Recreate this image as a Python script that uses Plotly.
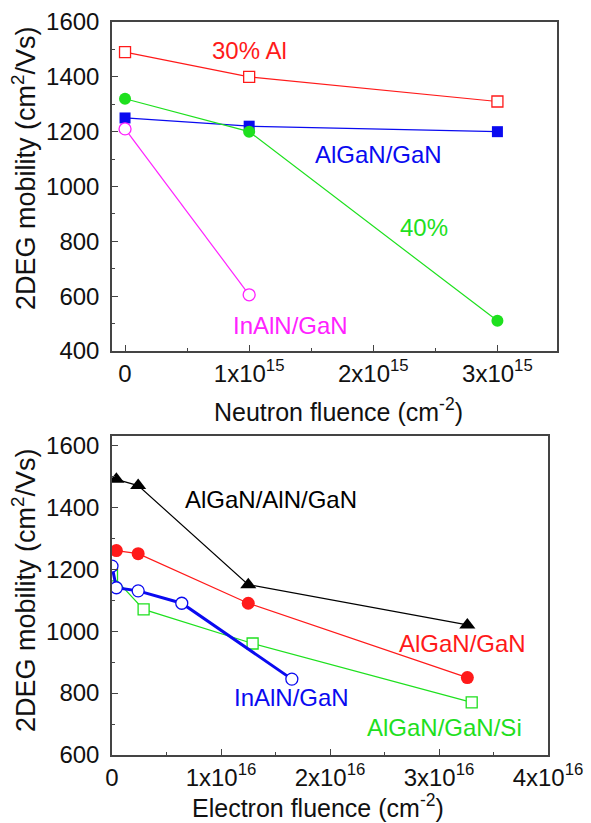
import plotly.graph_objects as go

# ---- neutron irradiation (upper panel) ----
neutron_x = [0, 1e15, 3e15]
al30_mob = [1490, 1400, 1310]
algan_mob = [1250, 1220, 1200]
al40_mob = [1320, 1200, 510]
inaln_n_x = [0, 1e15]
inaln_n_mob = [1210, 605]

neutron_ticks = [0, 1e15, 2e15, 3e15]
neutron_ticktext = ["0", "1x10<sup>15</sup>", "2x10<sup>15</sup>", "3x10<sup>15</sup>"]

# ---- electron irradiation (lower panel) ----
aln_x = [0.04e16, 0.24e16, 1.25e16, 3.26e16]
aln_mob = [1490, 1470, 1150, 1020]
algan_e_x = [0.04e16, 0.24e16, 1.25e16, 3.26e16]
algan_e_mob = [1260, 1250, 1090, 850]
inaln_e_x = [0, 0.04e16, 0.24e16, 0.64e16, 1.65e16]
inaln_e_mob = [1210, 1140, 1130, 1090, 845]
si_x = [0, 0.29e16, 1.29e16, 3.3e16]
si_mob = [1180, 1070, 960, 770]

electron_ticks = [0, 1e16, 2e16, 3e16, 4e16]
electron_ticktext = ["0", "1x10<sup>16</sup>", "2x10<sup>16</sup>",
                     "3x10<sup>16</sup>", "4x10<sup>16</sup>"]

RED = "#FF1A1A"
BLUE = "#0A0AF0"
GREEN = "#1EE01E"
MAGENTA = "#FF22FF"
BLACK = "#000000"
FONT = "Liberation Sans, Arial, sans-serif"

fig = go.Figure()


def series(x, y, color, symbol, size, xa, ya, open_marker=False, lw=1.2):
    fig.add_trace(go.Scatter(
        x=x, y=y, mode="lines+markers", xaxis=xa, yaxis=ya,
        line=dict(color=color, width=lw),
        marker=dict(symbol=symbol, size=size,
                    color="white" if open_marker else color,
                    line=dict(color=color, width=1.3 if open_marker else 0)),
        showlegend=False,
    ))


# upper panel
series(neutron_x, al30_mob, RED, "square", 11, "x", "y", open_marker=True)
series(neutron_x, algan_mob, BLUE, "square", 11, "x", "y")
series(neutron_x, al40_mob, GREEN, "circle", 12, "x", "y")
series(inaln_n_x, inaln_n_mob, MAGENTA, "circle", 12, "x", "y", open_marker=True)

# lower panel
series(si_x, si_mob, GREEN, "square", 11, "x2", "y2", open_marker=True)
series(inaln_e_x, inaln_e_mob, BLUE, "circle", 12, "x2", "y2", open_marker=True, lw=3)
series(algan_e_x, algan_e_mob, RED, "circle", 13, "x2", "y2")
series(aln_x, aln_mob, BLACK, "triangle-up", 14, "x2", "y2")

W, H = 591, 823
axis_common = dict(
    showline=True, linecolor="#444444", linewidth=1.5, mirror=True,
    ticks="inside", ticklen=6, tickwidth=1.2, tickcolor="#444444",
    showgrid=False, zeroline=False, automargin=False,
    tickfont=dict(family=FONT, size=24, color="#111111"),
)

fig.update_layout(
    width=W, height=H,
    margin=dict(l=0, r=0, t=0, b=0),
    paper_bgcolor="white", plot_bgcolor="white",
    font=dict(family=FONT, color="#111111"),
    xaxis=dict(domain=[112 / W, 557 / W], range=[-0.105e15, 3.48e15],
               tickmode="array", tickvals=neutron_ticks, ticktext=neutron_ticktext,
               minor=dict(tickvals=[0.5e15, 1.5e15, 2.5e15], ticks="inside",
                          ticklen=3, tickcolor="#444444"),
               anchor="y", ticklabelstandoff=0, **axis_common),
    yaxis=dict(domain=[1 - 351 / H, 1 - 22 / H], range=[400, 1600],
               tickmode="linear", tick0=400, dtick=200,
               minor=dict(dtick=100, ticks="inside", ticklen=3, tickcolor="#444444"),
               anchor="x", ticklabelstandoff=6, **axis_common),
    xaxis2=dict(domain=[112 / W, 548 / W], range=[0, 4e16],
                tickmode="array", tickvals=electron_ticks, ticktext=electron_ticktext,
                minor=dict(tickvals=[0.5e16, 1.5e16, 2.5e16, 3.5e16], ticks="inside",
                           ticklen=3, tickcolor="#444444"),
                anchor="y2", ticklabelstandoff=0, **axis_common),
    yaxis2=dict(domain=[1 - 755 / H, 1 - 436 / H], range=[600, 1630],
                tickmode="linear", tick0=600, dtick=200,
                minor=dict(dtick=100, ticks="inside", ticklen=3, tickcolor="#444444"),
                anchor="x2", ticklabelstandoff=6, **axis_common),
)

# series labels placed in data coordinates
labels = [
    ("x", "y", 1.0e15, 1495, "30% Al", RED),
    ("x", "y", 2.04e15, 1118, "AlGaN/GaN", BLUE),
    ("x", "y", 2.41e15, 852, "40%", GREEN),
    ("x", "y", 1.33e15, 494, "InAlN/GaN", MAGENTA),
    ("x2", "y2", 1.46e16, 1426, "AlGaN/AlN/GaN", BLACK),
    ("x2", "y2", 3.22e16, 961, "AlGaN/GaN", RED),
    ("x2", "y2", 1.65e16, 787, "InAlN/GaN", BLUE),
    ("x2", "y2", 3.05e16, 690, "AlGaN/GaN/Si", GREEN),
]
for xa, ya, x, y, text, color in labels:
    fig.add_annotation(xref=xa, yref=ya, x=x, y=y, text=text, showarrow=False,
                       xanchor="center", yanchor="middle",
                       font=dict(family=FONT, size=24, color=color))

# axis titles
ytitle_font = dict(family=FONT, size=27, color="#111111")
xtitle_font = dict(family=FONT, size=25, color="#111111")
ytitle = "2DEG mobility (cm<sup>2</sup>/Vs)"
titles = [
    (24, 168, ytitle, -90, ytitle_font),
    (24, 590, ytitle, -90, ytitle_font),
    (338, 410, "Neutron fluence (cm<sup>-2</sup>)", 0, xtitle_font),
    (318, 806, "Electron fluence (cm<sup>-2</sup>)", 0, xtitle_font),
]
for px, py, text, angle, tfont in titles:
    fig.add_annotation(xref="paper", yref="paper", x=px / W, y=1 - py / H, text=text,
                       textangle=angle, showarrow=False,
                       xanchor="center", yanchor="middle", font=tfont)

fig.write_html("out.html")
